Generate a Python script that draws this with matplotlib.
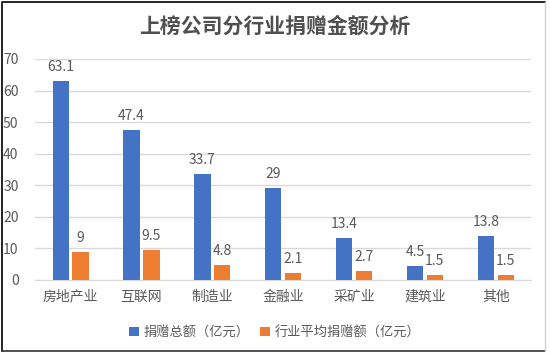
import matplotlib
matplotlib.use('Agg')
import matplotlib.pyplot as plt
import numpy as np

plt.rcParams['font.family'] = ['Noto Sans CJK SC', 'DejaVu Sans']

# 数据
categories = ['房地产业', '互联网', '制造业', '金融业', '采矿业', '建筑业', '其他']
total_donation = [63.1, 47.4, 33.7, 29, 13.4, 4.5, 13.8]
avg_donation = [9, 9.5, 4.8, 2.1, 2.7, 1.5, 1.5]
series_names = ['捐赠总额（亿元）', '行业平均捐赠额（亿元）']

blue = '#4472C4'
orange = '#ED7D31'
text_gray = '#595959'

fig = plt.figure(figsize=(5.5, 3.53), dpi=100)
ax = fig.add_axes([0.064, 0.207, 0.902, 0.626])

x = np.arange(len(categories))
w = 0.23
off = 0.14
b1 = ax.bar(x - off, total_donation, w, color=blue, label=series_names[0], zorder=3)
b2 = ax.bar(x + off, avg_donation, w, color=orange, label=series_names[1], zorder=3)

for bars, vals in ((b1, total_donation), (b2, avg_donation)):
    for rect, v in zip(bars, vals):
        ax.annotate(f'{v:g}', (rect.get_x() + rect.get_width() / 2, v),
                    xytext=(0, 5), textcoords='offset points',
                    ha='center', va='bottom', fontsize=10, color=text_gray)

ax.set_xlim(-0.5, len(categories) - 0.5)
ax.set_ylim(0, 70)
ax.set_yticks(range(0, 71, 10))
ax.set_xticks(x)
ax.set_xticklabels(categories)
ax.tick_params(axis='both', length=0, colors=text_gray, labelsize=10)
ax.tick_params(axis='x', pad=7)
ax.tick_params(axis='y', pad=12)
ax.grid(axis='y', color='#D9D9D9', linewidth=1, zorder=0)
for s in ['top', 'right', 'left']:
    ax.spines[s].set_visible(False)
ax.spines['bottom'].set_color('#D9D9D9')

fig.text(0.5, 0.925, '上榜公司分行业捐赠金额分析', ha='center', va='center',
         fontsize=15, fontweight='semibold', color='#505050')

fig.legend(loc='center', bbox_to_anchor=(0.5, 0.057), ncol=2, frameon=False,
           fontsize=9.5, handlelength=0.7, handleheight=0.7, handletextpad=0.4,
           columnspacing=0.8, labelcolor=text_gray)

# 外框
fig.add_artist(plt.Line2D([0.004, 0.004, 0.99], [0.006, 0.994, 0.994], transform=fig.transFigure,
                          color='black', linewidth=1.2))
fig.add_artist(plt.Line2D([0.004, 0.99], [0.006, 0.006], transform=fig.transFigure,
                          color='#333333', linewidth=1.2))
fig.add_artist(plt.Line2D([0.99, 0.99], [0.006, 0.994], transform=fig.transFigure,
                          color='#D0D0D0', linewidth=1))

fig.savefig('out.png', dpi=100)
